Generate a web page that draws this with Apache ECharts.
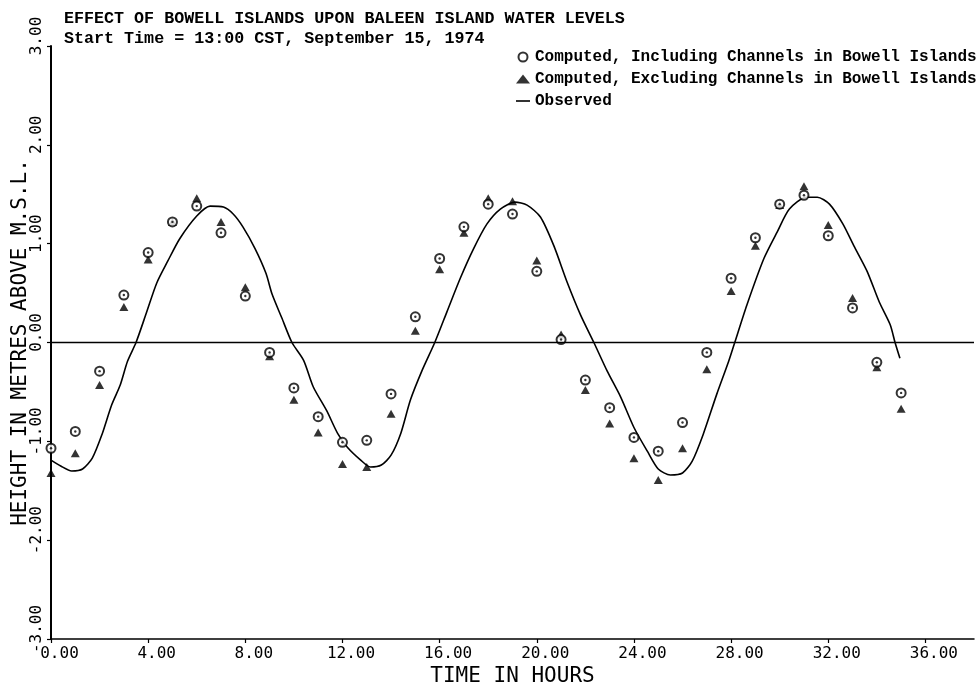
<!DOCTYPE html>
<html>
<head>
<meta charset="utf-8">
<script src="https://cdn.jsdelivr.net/npm/echarts@6/dist/echarts.min.js"></script>
<style>
html,body{margin:0;padding:0;background:#fff;}
#chart{width:980px;height:683px;}
</style>
</head>
<body>
<div id="chart"></div>
<script>
// ---- data ----
const titleLine1 = 'EFFECT OF BOWELL ISLANDS UPON BALEEN ISLAND WATER LEVELS';
const titleLine2 = 'Start Time = 13:00 CST, September 15, 1974';
const nameIncl = 'Computed, Including Channels in Bowell Islands';
const nameExcl = 'Computed, Excluding Channels in Bowell Islands';
const nameObs = 'Observed';
const xAxisTitle = 'TIME IN HOURS';
const yAxisTitle = 'HEIGHT IN METRES ABOVE M.S.L.';

const xTicks = [0, 4, 8, 12, 16, 20, 24, 28, 32, 36];
const yTicks = [-3, -2, -1, 0, 1, 2, 3];

const hours = [0, 1, 2, 3, 4, 5, 6, 7, 8, 9, 10, 11, 12, 13, 14, 15, 16, 17,
               18, 19, 20, 21, 22, 23, 24, 25, 26, 27, 28, 29, 30, 31, 32, 33, 34, 35];

const heightIncl = [-1.07, -0.90, -0.29, 0.48, 0.91, 1.22, 1.38, 1.11, 0.47, -0.10,
                    -0.46, -0.75, -1.01, -0.99, -0.52, 0.26, 0.85, 1.17, 1.40, 1.30,
                    0.72, 0.03, -0.38, -0.66, -0.96, -1.10, -0.81, -0.10, 0.65, 1.06,
                    1.40, 1.49, 1.08, 0.35, -0.20, -0.51];

const heightExcl = [-1.32, -1.12, -0.43, 0.36, 0.84, 1.22, 1.46, 1.22, 0.56, -0.14,
                    -0.58, -0.91, -1.23, -1.26, -0.72, 0.12, 0.74, 1.11, 1.46, 1.43,
                    0.83, 0.08, -0.48, -0.82, -1.17, -1.39, -1.07, -0.27, 0.52, 0.98,
                    1.39, 1.58, 1.19, 0.45, -0.25, -0.67];

const obsTime = [0.00, 0.40, 0.85, 1.30, 1.70, 2.10, 2.50, 2.85, 3.15, 3.50,
                 3.90, 4.35, 4.80, 5.30, 6.00, 6.55, 7.10, 7.50, 7.90, 8.40,
                 8.85, 9.10, 9.50, 9.92, 10.40, 10.80, 11.35, 11.80, 12.20, 12.75,
                 13.15, 13.60, 14.00, 14.40, 14.80, 15.30, 15.80, 16.30, 16.85, 17.40,
                 17.95, 18.50, 19.10, 19.60, 20.15, 20.70, 21.25, 21.80, 22.35, 22.90,
                 23.45, 24.00, 24.55, 25.00, 25.50, 26.00, 26.40, 26.85, 27.40, 27.90,
                 28.15, 28.65, 29.35, 29.90, 30.40, 31.10, 31.55, 32.05, 32.60, 33.05,
                 33.60, 34.10, 34.55, 34.75, 34.95];

const obsHeight = [-1.19, -1.25, -1.30, -1.28, -1.17, -0.93, -0.63, -0.43, -0.19, 0.00,
                   0.28, 0.60, 0.82, 1.05, 1.28, 1.38, 1.37, 1.30, 1.17, 0.95,
                   0.70, 0.49, 0.25, 0.00, -0.18, -0.45, -0.69, -0.92, -1.06, -1.19,
                   -1.26, -1.24, -1.14, -0.92, -0.58, -0.27, 0.00, 0.31, 0.65, 0.95,
                   1.20, 1.35, 1.42, 1.39, 1.27, 0.98, 0.61, 0.28, 0.00, -0.29,
                   -0.55, -0.86, -1.10, -1.28, -1.34, -1.32, -1.20, -0.93, -0.53, -0.19,
                   0.00, 0.38, 0.85, 1.12, 1.35, 1.47, 1.47, 1.40, 1.20, 0.98,
                   0.72, 0.41, 0.18, 0.00, -0.16];

// ---- build ----
const pairs = (xs, ys) => xs.map((x, i) => [x, ys[i]]);
const inclData = pairs(hours, heightIncl);
const exclData = pairs(hours, heightExcl);
const obsData = pairs(obsTime, obsHeight);

const monoText = 'Liberation Mono';
const plotFont = 'DejaVu Sans Mono';

const chart = echarts.init(document.getElementById('chart'), null, {renderer: 'canvas'});
chart.setOption({
  backgroundColor: '#ffffff',
  animation: false,
  title: {
    text: titleLine1,
    subtext: titleLine2,
    left: 64,
    top: 11,
    padding: 0,
    itemGap: 3,
    textStyle: {fontFamily: monoText, fontSize: 16.7, fontWeight: 'bold', color: '#000', lineHeight: 16},
    subtextStyle: {fontFamily: monoText, fontSize: 16.7, fontWeight: 'bold', color: '#000', lineHeight: 16}
  },
  legend: {
    data: [
      {name: nameIncl},
      {name: nameExcl},
      {name: nameObs, icon: 'path://M0,0 L14,0 L14,1.6 L0,1.6 Z'}
    ],
    orient: 'vertical',
    left: 516,
    top: 49,
    padding: 0,
    itemGap: 6,
    itemWidth: 14,
    itemHeight: 9,
    itemTextGap: 3,
    selectedMode: false,
    textStyle: {fontFamily: monoText, fontSize: 16, fontWeight: 'bold', color: '#000', lineHeight: 16}
  },
  grid: {left: 51, right: 6, top: 46, bottom: 44, containLabel: false, outerBoundsMode: 'none'},
  xAxis: {
    type: 'value',
    min: 0,
    max: 38,
    name: xAxisTitle,
    nameLocation: 'middle',
    nameGap: 27,
    nameMoveOverlap: false,
    nameTextStyle: {fontFamily: plotFont, fontSize: 21, color: '#000'},
    axisLine: {onZero: false, lineStyle: {color: '#000', width: 1.5}},
    axisTick: {show: true, length: 4, customValues: xTicks, lineStyle: {color: '#000', width: 1.2}},
    axisLabel: {
      customValues: xTicks,
      margin: 7,
      padding: [0, 0, 0, 17],
      fontFamily: plotFont, fontSize: 16, color: '#000',
      formatter: v => v.toFixed(2)
    },
    splitLine: {show: false}
  },
  yAxis: {
    type: 'value',
    min: -3,
    max: 3,
    interval: 1,
    name: yAxisTitle,
    nameLocation: 'middle',
    nameGap: 20,
    nameMoveOverlap: false,
    nameTextStyle: {fontFamily: plotFont, fontSize: 21, color: '#000'},
    axisLine: {show: true, lineStyle: {color: '#000', width: 2}},
    axisTick: {show: true, length: 4, customValues: yTicks, lineStyle: {color: '#000', width: 1.2}},
    axisLabel: {
      rotate: 90,
      margin: 6,
      padding: [0, 0, 0, 20],
      fontFamily: plotFont, fontSize: 16, color: '#000',
      formatter: v => v.toFixed(2)
    },
    splitLine: {show: false}
  },
  series: [
    {
      name: nameObs,
      type: 'line',
      data: obsData,
      symbol: 'none',
      smooth: 0.25,
      lineStyle: {color: '#000', width: 1.6},
      itemStyle: {color: '#000'},
      z: 2,
      markLine: {
        silent: true,
        symbol: ['none', 'none'],
        label: {show: false},
        lineStyle: {color: '#000', width: 1.4, type: 'solid'},
        data: [{yAxis: 0}]
      }
    },
    {
      name: nameIncl,
      type: 'scatter',
      data: inclData,
      symbol: 'emptyCircle',
      symbolSize: 9,
      itemStyle: {color: '#000', borderColor: '#000', borderWidth: 1.6},
      z: 4
    },
    {
      name: 'inclCentre',
      type: 'scatter',
      data: inclData,
      symbol: 'circle',
      symbolSize: 2.4,
      silent: true,
      itemStyle: {color: '#000'},
      z: 5
    },
    {
      name: nameExcl,
      type: 'scatter',
      data: exclData,
      symbol: 'triangle',
      symbolSize: [9, 8],
      itemStyle: {color: '#000'},
      z: 3
    }
  ]
});
</script>
</body>
</html>
